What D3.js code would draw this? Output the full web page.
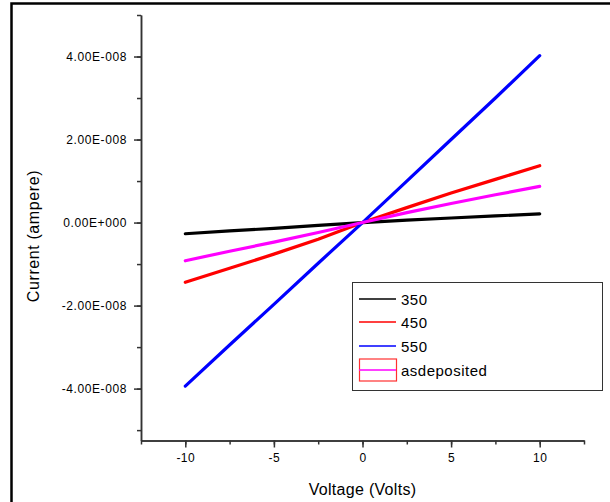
<!DOCTYPE html>
<html>
<head>
<meta charset="utf-8">
<script src="https://cdn.jsdelivr.net/npm/d3@7"></script>
<style>
  body { margin: 0; background: #fff; }
  svg { display: block; font-family: "Liberation Sans", Arial, sans-serif; }
</style>
</head>
<body>
<svg id="chart" width="610" height="502"></svg>
<script>
// voltage samples (Volts)
var voltage = [-10, -7.5, -5, -2.5, 0, 2.5, 5, 7.5, 10];
// current readings (ampere)
var cur350 = [-2.7e-9, -2.0e-9, -1.4e-9, -0.7e-9, 0, 0.6e-9, 1.1e-9, 1.6e-9, 2.1e-9];
var cur450 = [-1.44e-8, -1.10e-8, -0.76e-8, -0.40e-8, 0, 0.36e-8, 0.71e-8, 1.04e-8, 1.37e-8];
var cur550 = [-3.94e-8, -2.95e-8, -1.97e-8, -0.98e-8, 0, 1.0e-8, 2.0e-8, 3.0e-8, 4.02e-8];
var curAsdep = [-0.92e-8, -0.69e-8, -0.47e-8, -0.24e-8, 0, 0.24e-8, 0.46e-8, 0.67e-8, 0.87e-8];

var seriesNames = ["350", "450", "550", "asdeposited"];
var seriesColors = ["#000000", "#ff0000", "#0000ff", "#ff00ff"];
var seriesValues = [cur350, cur450, cur550, curAsdep];

var xTicks = [-10, -5, 0, 5, 10];
var yTicks = [-4e-8, -2e-8, 0, 2e-8, 4e-8];

var svg = d3.select("#chart");

// outer frame (only left and top edges fall inside the picture)
svg.append("rect")
  .attr("x", 11.5).attr("y", 3.5)
  .attr("width", 700).attr("height", 600)
  .attr("fill", "none").attr("stroke", "#000").attr("stroke-width", 2.5);

var plotLeft = 141, plotRight = 584, plotTop = 15, plotBottom = 440.5;

var x = d3.scaleLinear().domain([-12.5, 12.5]).range([plotLeft, plotRight]);
var y = d3.scaleLinear().domain([-5.25e-8, 5e-8]).range([plotBottom, plotTop]);

function sci(v) {
  if (v === 0) return "0.00E+000";
  var e = Math.floor(Math.log10(Math.abs(v)) + 1e-9);
  var m = v / Math.pow(10, e);
  return m.toFixed(2) + "E" + (e < 0 ? "-" : "+") + String(Math.abs(e)).padStart(3, "0");
}

var axisColor = "#333";

// minor ticks
var xMinor = d3.range(-12.5, 12.51, 2.5);
var yMinor = d3.range(-5e-8, 5.01e-8, 1e-8);

svg.append("g")
  .attr("transform", "translate(0," + plotBottom + ")")
  .call(d3.axisBottom(x).tickValues(xMinor).tickSize(4).tickSizeOuter(0).tickFormat(""));
var gx2 = svg.append("g")
  .attr("transform", "translate(0," + plotBottom + ")")
  .call(d3.axisBottom(x).tickValues(xTicks).tickSize(7).tickSizeOuter(0).tickPadding(6)
    .tickFormat(function (d) { return String(d); }));

svg.append("g")
  .attr("transform", "translate(" + plotLeft + ",0)")
  .call(d3.axisLeft(y).tickValues(yMinor).tickSize(4).tickSizeOuter(0).tickFormat(""));
var gy2 = svg.append("g")
  .attr("transform", "translate(" + plotLeft + ",0)")
  .call(d3.axisLeft(y).tickValues(yTicks).tickSize(7).tickSizeOuter(0).tickPadding(7).tickFormat(sci));

svg.selectAll(".domain, .tick line").attr("stroke", axisColor).attr("stroke-width", 1.5);
gx2.selectAll("text").attr("font-size", 12).attr("fill", "#000").style("letter-spacing", "0.5px")
  .attr("font-family", "Liberation Sans, Arial, sans-serif");
gy2.selectAll("text").attr("font-size", 12).attr("fill", "#000").style("letter-spacing", "0.6px")
  .attr("font-family", "Liberation Sans, Arial, sans-serif");

// axis titles
svg.append("text")
  .attr("x", (plotLeft + plotRight) / 2).attr("y", 495)
  .attr("text-anchor", "middle")
  .attr("font-size", 16)
  .style("letter-spacing", "0.3px")
  .text("Voltage (Volts)");

svg.append("text")
  .attr("transform", "translate(39,236) rotate(-90)")
  .attr("text-anchor", "middle")
  .attr("font-size", 16)
  .style("letter-spacing", "0.6px")
  .text("Current (ampere)");

// data lines
var line = d3.line()
  .x(function (d, i) { return x(voltage[i]); })
  .y(function (d) { return y(d); });

svg.append("g").selectAll("path")
  .data(seriesValues)
  .enter().append("path")
  .attr("fill", "none")
  .attr("stroke", function (d, i) { return seriesColors[i]; })
  .attr("stroke-width", 3.2)
  .attr("stroke-linecap", "round")
  .attr("d", line);

// legend
var lg = svg.append("g");
lg.append("rect")
  .attr("x", 352.5).attr("y", 282.5)
  .attr("width", 250).attr("height", 108)
  .attr("fill", "#fff").attr("stroke", "#333").attr("stroke-width", 1);

var rowY = [299, 322, 346, 370];
seriesNames.forEach(function (name, i) {
  if (name === "asdeposited") {
    lg.append("rect")
      .attr("x", 359.5).attr("y", rowY[i] - 11)
      .attr("width", 37).attr("height", 22)
      .attr("fill", "none").attr("stroke", "#ff3030").attr("stroke-width", 1.2);
  }
  lg.append("line")
    .attr("x1", 359).attr("x2", 396)
    .attr("y1", rowY[i]).attr("y2", rowY[i])
    .attr("stroke", seriesColors[i]).attr("stroke-width", 1.5);
  lg.append("text")
    .attr("x", 401).attr("y", rowY[i] + 6)
    .attr("font-size", 15)
    .style("letter-spacing", "0.5px")
    .text(name);
});
</script>
</body>
</html>
